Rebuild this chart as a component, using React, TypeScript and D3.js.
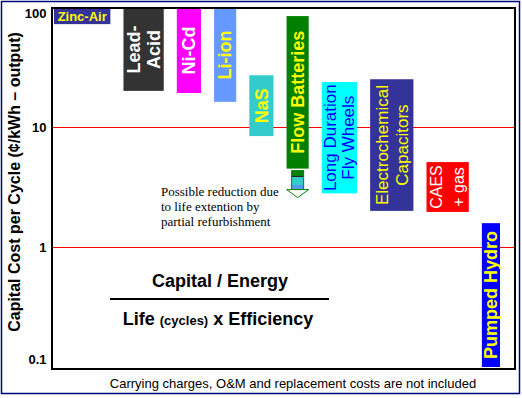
import * as d3 from 'd3';

// chart values
const technologies = [
  'Zinc-Air', 'Lead-Acid', 'Ni-Cd', 'Li-ion', 'NaS', 'Flow Batteries',
  'Long Duration Fly Wheels', 'Electrochemical Capacitors', 'CAES + gas', 'Pumped Hydro',
];
const costLow = [72, 20, 19.2, 16.2, 8.4, 4.5, 2.8, 2.0, 1.96, 0.1];
const costHigh = [100, 100, 100, 100, 27, 84, 23.7, 25, 5.1, 1.58];
const barLabels = [
  ['Zinc-Air'], ['Lead-', 'Acid'], ['Ni-Cd'], ['Li-ion'], ['NaS'], ['Flow Batteries'],
  ['Long Duration', 'Fly Wheels'], ['Electrochemical', 'Capacitors'], ['CAES', '+ gas'], ['Pumped Hydro'],
];
const yTicks = [0.1, 1, 10, 100];
const gridValues = [1, 10];
const noteLines = ['Possible reduction due', 'to life extention by', 'partial refurbishment'];
const yTitle = 'Capital Cost per Cycle (\u00A2/kWh \u2013 output)';
const footnote = 'Carrying charges, O&M and replacement costs are not included';

// look of each bar
const barColors = ['#333399', '#333333', '#FF00FF', '#6699FF', '#33CCCC', '#008000', '#00FFFF', '#333399', '#FF0000', '#0000FF'];
const textColors = ['#FFFF00', '#FFFFFF', '#FFFFFF', '#FFFF00', '#FFFF00', '#FFFF00', '#0000FF', '#FFFF00', '#FFFFFF', '#FFFF00'];
const barWidths = [56, 40, 24, 22, 24, 22, 35, 43, 42, 18];
const labelSizes = [13, 18, 18, 18, 18, 18, 17, 17, 16, 18];
const labelWeights = ['bold', 'bold', 'bold', 'bold', 'bold', 'bold', 'normal', 'normal', 'normal', 'bold'];
const lineGaps = [0, 20, 0, 0, 0, 0, 18, 20, 22, 0];

const W = 522;
const H = 398;
const frame = { left: 52, right: 515, top: 8, bottom: 369 };
const sans = "'Liberation Sans', Arial, sans-serif";
const serif = "'Liberation Serif', 'Times New Roman', serif";

export default function App() {
  const y = d3.scaleLog().domain([0.1, 100]).range([367, 7]);

  // bars are laid side by side by width with an even gap
  const gap = 13;
  const starts = barWidths.map((_, i) => d3.sum(barWidths.slice(0, i)) + i * gap);
  const x = d3.scaleLinear()
    .domain([0, d3.sum(barWidths) + gap * (barWidths.length - 1)])
    .range([frame.left + 2, 500]);

  const bars = technologies.map((name, i) => {
    const x0 = x(starts[i]);
    const x1 = x(starts[i] + barWidths[i]);
    return { name, i, x0, x1, y0: y(costHigh[i]), y1: y(costLow[i]) };
  });

  const flow = bars[5];
  const arrowCx = (flow.x0 + flow.x1) / 2;
  const arrowTop = flow.y1 + 2;

  return (
    <svg width={W} height={H} style={{ position: 'absolute', left: 0, top: 0 }}>
      <defs>
        <linearGradient id="shaft" x1="0" y1="0" x2="0" y2="1">
          <stop offset="0" stopColor="#008000" />
          <stop offset="0.28" stopColor="#008000" />
          <stop offset="0.28" stopColor="#222222" />
          <stop offset="0.36" stopColor="#222222" />
          <stop offset="0.36" stopColor="#33CCCC" />
          <stop offset="0.78" stopColor="#33CCCC" />
          <stop offset="0.78" stopColor="#5599EE" />
          <stop offset="1" stopColor="#5599EE" />
        </linearGradient>
      </defs>
      <rect x={0} y={0} width={W} height={H} fill="#ffffff" />
      <rect x={1.5} y={1.5} width={518} height={392} fill="#FEFEFE" stroke="#000080" strokeWidth={1.5} />

      {gridValues.map((v) => (
        <line key={v} x1={frame.left} x2={frame.right} y1={Math.round(y(v)) + 0.5} y2={Math.round(y(v)) + 0.5} stroke="#FF0000" strokeWidth={1} />
      ))}

      {bars.map((b) => (
        <rect key={b.name} x={b.x0} y={b.y0} width={b.x1 - b.x0} height={b.y1 - b.y0} fill={barColors[b.i]} />
      ))}

      {bars.map((b) => {
        const cx = (b.x0 + b.x1) / 2;
        const cy = (Math.max(b.y0, frame.top) + b.y1) / 2;
        const lines = barLabels[b.i];
        if (b.i === 0) {
          return (
            <text key={b.name} x={cx} y={cy} dy="0.35em" textAnchor="middle" fill={textColors[b.i]}
              fontFamily={sans} fontSize={labelSizes[b.i]} fontWeight={labelWeights[b.i]}>{lines[0]}</text>
          );
        }
        return lines.map((line, k) => {
          const off = (k - (lines.length - 1) / 2) * lineGaps[b.i];
          return (
            <text key={b.name + k} transform={`translate(${cx + off},${cy}) rotate(-90)`} dy="0.35em"
              textAnchor="middle" fill={textColors[b.i]} fontFamily={sans}
              fontSize={labelSizes[b.i]} fontWeight={labelWeights[b.i]}>{line}</text>
          );
        });
      })}

      {/* arrow under flow batteries */}
      <rect x={arrowCx - 6} y={arrowTop} width={12} height={19} fill="url(#shaft)" stroke="#008000" strokeWidth={1} />
      <path d={`M${arrowCx - 11},${arrowTop + 19}L${arrowCx + 11},${arrowTop + 19}L${arrowCx},${arrowTop + 27}Z`}
        fill="#ffffff" stroke="#008000" strokeWidth={1} />

      {noteLines.map((t, k) => (
        <text key={t} x={161} y={191 + k * 15} dy="0.35em" fontFamily={serif} fontSize={13} fill="#000">{t}</text>
      ))}

      {/* plot frame */}
      <rect x={frame.left} y={frame.top} width={frame.right - frame.left} height={frame.bottom - frame.top}
        fill="none" stroke="#000" strokeWidth={2} />

      {yTicks.map((v) => (
        <text key={v} x={46.5} y={Math.min(Math.max(y(v), 13), 359)} dy="0.35em" textAnchor="end"
          fontFamily={sans} fontSize={13} fontWeight="bold" fill="#000">{String(v)}</text>
      ))}

      <text transform="translate(14,182) rotate(-90)" dy="0.35em" textAnchor="middle" fontFamily={sans}
        fontSize={16} fontWeight="bold" fill="#000">{yTitle}</text>

      {/* formula */}
      <text x={220} y={281} dy="0.35em" textAnchor="middle" fontFamily={sans} fontSize={18} fontWeight="bold" fill="#000">
        Capital / Energy
      </text>
      <line x1={110} x2={329} y1={299} y2={299} stroke="#000" strokeWidth={2} />
      <text x={218} y={319} dy="0.35em" textAnchor="middle" fontFamily={sans} fontSize={18} fontWeight="bold" fill="#000">
        Life <tspan fontSize={13}>(cycles)</tspan> x Efficiency
      </text>

      <text x={293} y={383} dy="0.35em" textAnchor="middle" fontFamily={sans} fontSize={13} fill="#000">{footnote}</text>
    </svg>
  );
}
